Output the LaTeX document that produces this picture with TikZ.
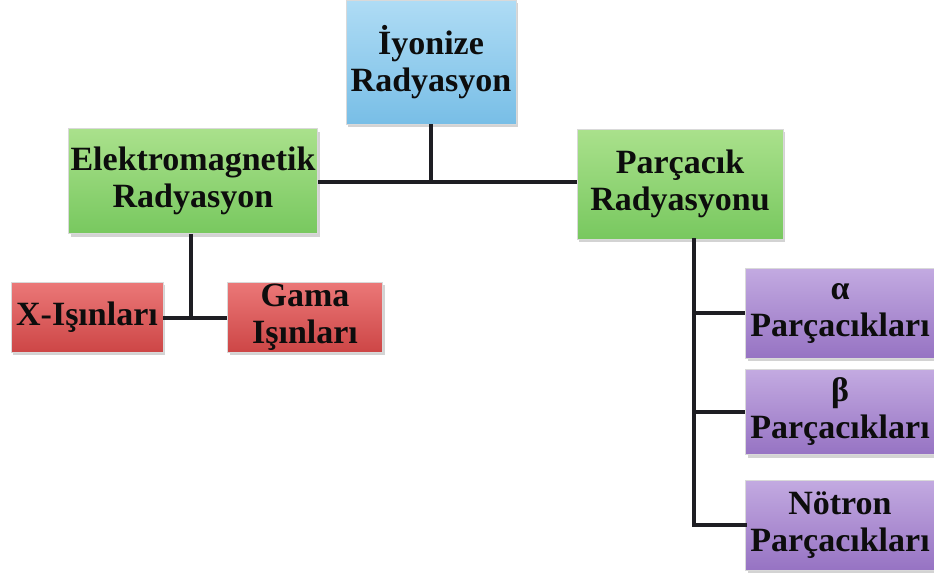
\documentclass[tikz,border=0pt]{standalone}
\usepackage{fontspec}
\setmainfont{Liberation Serif}
\usetikzlibrary{shadows}
\definecolor{blueA}{RGB}{175,220,245}
\definecolor{blueB}{RGB}{120,190,230}
\definecolor{greenA}{RGB}{170,225,140}
\definecolor{greenB}{RGB}{120,200,95}
\definecolor{redA}{RGB}{235,120,120}
\definecolor{redB}{RGB}{205,70,70}
\definecolor{purpA}{RGB}{195,170,225}
\definecolor{purpB}{RGB}{150,115,195}
\definecolor{linec}{RGB}{30,30,35}
\tikzset{
  box/.style={draw=white!70!gray, line width=0.8pt, inner sep=0pt, align=center,
    font=\bfseries\fontsize{34}{37}\selectfont, text=black!95,
    drop shadow={shadow xshift=2pt, shadow yshift=-3pt, opacity=0.35}},
  bluebox/.style={box, top color=blueA, bottom color=blueB},
  greenbox/.style={box, top color=greenA, bottom color=greenB},
  redbox/.style={box, top color=redA, bottom color=redB},
  purpbox/.style={box, top color=purpA, bottom color=purpB},
  conn/.style={draw=linec, line width=4.5pt}
}
\begin{document}
\begin{tikzpicture}[x=1pt,y=-1pt]
\useasboundingbox (0,0) rectangle (934,578);
% nodes
\node[bluebox, minimum width=170pt, minimum height=124pt] (ion) at (431,62) {İyonize\\Radyasyon};
\node[greenbox, minimum width=249pt, minimum height=105pt] (em) at (193,181) {Elektromagnetik\\Radyasyon};
\node[greenbox, minimum width=206pt, minimum height=110pt] (pr) at (680,184) {Parçacık\\Radyasyonu};
\node[redbox, minimum width=152pt, minimum height=70pt] (x) at (87,317) {X-Işınları};
\node[redbox, minimum width=155pt, minimum height=70pt] (g) at (305,317) {Gama\\Işınları};
\node[purpbox, minimum width=189pt, minimum height=90pt] (a) at (840,313) {α\\Parçacıkları};
\node[purpbox, minimum width=189pt, minimum height=85pt] (b) at (840,412) {β\\Parçacıkları};
\node[purpbox, minimum width=189pt, minimum height=90pt] (n) at (840,525) {Nötron\\Parçacıkları};
% connectors
\coordinate (j1) at (431,182);
\coordinate (j2) at (191,318);
\coordinate (j3) at (694,240);
\draw[conn] (ion.south) -- (j1);
\draw[conn] (em.east |- j1) -- (pr.west |- j1);
\draw[conn] (em.south -| j2) -- (j2);
\draw[conn] (x.east |- j2) -- (g.west |- j2);
\draw[conn, line cap=rect] (j3) -- (j3 |- n.west) -- (n.west);
\draw[conn] (j3 |- a.west) -- (a.west);
\draw[conn] (j3 |- b.west) -- (b.west);
\end{tikzpicture}
\end{document}
